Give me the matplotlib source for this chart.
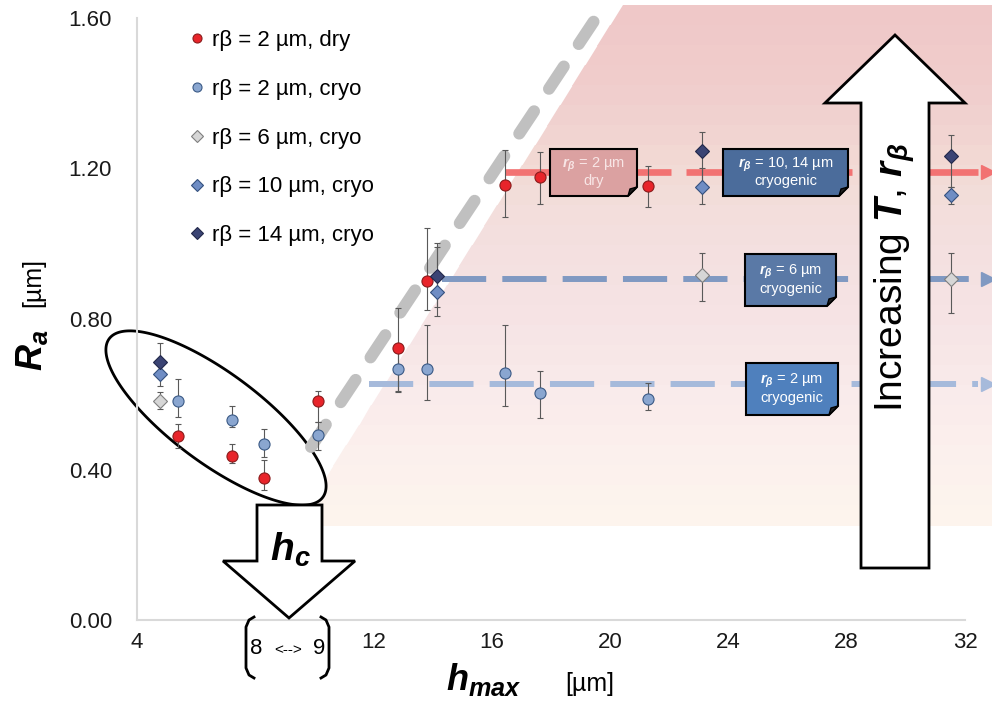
import numpy as np
import matplotlib.pyplot as plt
from matplotlib.patches import Polygon
from matplotlib.lines import Line2D
from matplotlib.transforms import Affine2D

plt.rcParams['font.family'] = ['Liberation Sans', 'DejaVu Sans']
plt.rcParams['mathtext.fontset'] = 'custom'
plt.rcParams['mathtext.rm'] = 'Liberation Sans'
plt.rcParams['mathtext.it'] = 'Liberation Sans:italic'
plt.rcParams['mathtext.bf'] = 'Liberation Sans:bold'
plt.rcParams['mathtext.bfit'] = 'Liberation Sans:italic:bold'

# ---- data ----
# r_beta = 2 um, dry
x_dry = [5.39, 7.21, 8.31, 10.11, 12.84, 13.82, 16.44, 17.64, 21.27]
y_dry = [0.489, 0.436, 0.378, 0.582, 0.724, 0.900, 1.157, 1.178, 1.154]
lo_dry = [0.031, 0.018, 0.032, 0.055, 0.117, 0.076, 0.087, 0.072, 0.055]
hi_dry = [0.031, 0.032, 0.047, 0.027, 0.106, 0.143, 0.093, 0.067, 0.053]
# r_beta = 2 um, cryo
x_c2 = [5.39, 7.21, 8.31, 10.11, 12.84, 13.82, 16.44, 17.64, 21.27]
y_c2 = [0.581, 0.532, 0.469, 0.492, 0.668, 0.666, 0.656, 0.603, 0.587]
lo_c2 = [0.041, 0.018, 0.035, 0.040, 0.060, 0.081, 0.087, 0.065, 0.029]
hi_c2 = [0.059, 0.037, 0.038, 0.035, 0.050, 0.117, 0.127, 0.060, 0.043]
# r_beta = 6 um, cryo
x_c6 = [4.78, 23.10, 31.54]
y_c6 = [0.581, 0.917, 0.906]
lo_c6 = [0.020, 0.070, 0.091]
hi_c6 = [0.026, 0.058, 0.069]
# r_beta = 10 um, cryo
x_c10 = [4.78, 14.14, 23.10, 31.54]
y_c10 = [0.653, 0.871, 1.151, 1.129]
lo_c10 = [0.030, 0.064, 0.045, 0.023]
hi_c10 = [0.030, 0.120, 0.050, 0.023]
# r_beta = 14 um, cryo
x_c14 = [4.78, 14.14, 23.10, 31.54]
y_c14 = [0.687, 0.913, 1.246, 1.232]
lo_c14 = [0.045, 0.080, 0.090, 0.080]
hi_c14 = [0.048, 0.090, 0.051, 0.058]

# plateau levels (dry 2um / cryo 6um / cryo 2um) and where they start
level_y = [1.19, 0.905, 0.628]
level_x0 = [16.45, 14.3, 11.83]

labels = ['r\u03b2 = 2 \u00b5m, dry', 'r\u03b2 = 2 \u00b5m, cryo', 'r\u03b2 = 6 \u00b5m, cryo',
          'r\u03b2 = 10 \u00b5m, cryo', 'r\u03b2 = 14 \u00b5m, cryo']

W, H = 992, 724
fig = plt.figure(figsize=(W / 100, H / 100), dpi=100)
ax = fig.add_axes([137 / W, 104 / H, (965 - 137) / W, (620 - 18) / H])
ax.set_xlim(4, 32)
ax.set_ylim(0, 1.6)

# pixel transform (origin top-left like the picture)
pix = Affine2D().scale(1, -1).translate(0, H)

def fxy(px, py):
    return px / W, 1 - py / H

# shaded region, banded gradient
stops_py = [5, 100, 170, 230, 300, 400, 470, 525]
stops_c = np.array([[239, 199, 199], [240, 206, 205], [242, 219, 213], [243, 223, 222],
                    [245, 226, 227], [249, 235, 235], [252, 241, 237], [253, 245, 237]]) / 255
edges = np.linspace(5, 525, 27)
def xleft(py):
    return 623 + (py - 5) * (296 - 623) / 520
for a, b in zip(edges[:-1], edges[1:]):
    m = 0.5 * (a + b)
    col = [np.interp(m, stops_py, stops_c[:, k]) for k in range(3)]
    ax.add_patch(Polygon([(xleft(a), a), (W, a), (W, b + 0.6), (xleft(b + 0.6), b + 0.6)],
                         closed=True, facecolor=col, edgecolor='none', transform=pix,
                         clip_on=False, zorder=0.5))

# ellipse around low-h points
t = np.linspace(0, 2 * np.pi, 300)
th = np.deg2rad(36.6)
ex = 216 + 133 * np.cos(t) * np.cos(th) - 45 * np.sin(t) * np.sin(th)
ey = 418 + 133 * np.cos(t) * np.sin(th) + 45 * np.sin(t) * np.cos(th)
ax.add_patch(Polygon(np.column_stack([ex, ey]), closed=True, facecolor='white',
                     edgecolor='black', lw=2, transform=pix, clip_on=False, zorder=1))

# grey dashed critical line
gl = Line2D([311, 600], [447, 12], color='#c0c0c0', lw=8.6, transform=pix,
            solid_capstyle='round', dash_capstyle='round', clip_on=False, zorder=1.5)
gl.set_dashes((2.25, 2.25))
ax.add_line(gl)

# plateau trend lines
trend_cols = ['#f27272', '#8099c2', '#a6badb']
trend_lw = [4.8, 4.3, 4.3]
trend_dash = [(24.9, 2.25), (7.4, 2.7), (7.4, 2.7)]
for yv, x0, c, lw, ds in zip(level_y, level_x0, trend_cols, trend_lw, trend_dash):
    ax.plot([x0, 32.45], [yv, yv], color=c, lw=lw, dashes=ds, clip_on=False, zorder=1.6)
    ax.plot([32.78], [yv], marker='>', color=c, ms=10, clip_on=False, zorder=1.6)

# data series
ekw = dict(ecolor='#595959', elinewidth=0.8, capsize=2.5, capthick=0.8, ls='none', zorder=3)
series = [
    (x_dry, y_dry, lo_dry, hi_dry, 'o', '#e8242a', '#8a1c1c', 8),
    (x_c2, y_c2, lo_c2, hi_c2, 'o', '#8aa6d0', '#3b5a86', 8),
    (x_c6, y_c6, lo_c6, hi_c6, 'D', '#d6d6d6', '#7f7f7f', 7.5),
    (x_c10, y_c10, lo_c10, hi_c10, 'D', '#6f8dc4', '#34507e', 7.5),
    (x_c14, y_c14, lo_c14, hi_c14, 'D', '#3b4474', '#22284a', 7.5),
]
handles = []
for xs, ys, lo, hi, mk, fc, ec, ms in series:
    ax.errorbar(xs, ys, yerr=[lo, hi], marker=mk, mfc=fc, mec=ec, mew=0.8, ms=ms, **ekw)
    handles.append(Line2D([], [], ls='none', marker=mk, mfc=fc, mec=ec, mew=0.8, ms=ms - 1.5))

ax.legend(handles, labels, loc='upper left', bbox_to_anchor=fxy(186, 30),
          bbox_transform=fig.transFigure, frameon=False, fontsize=16, handlelength=1,
          handletextpad=0.15, labelspacing=1.25, borderpad=0, borderaxespad=0)

# label boxes with folded corner
def note(x0, y0, x1, y1, fc, line1, line2, tc='white'):
    f = 9
    ax.add_patch(Polygon([(x0, y0), (x1, y0), (x1, y1 - f), (x1 - f, y1), (x0, y1)],
                         closed=True, facecolor=fc, edgecolor='black', lw=1.5,
                         transform=pix, clip_on=False, zorder=4))
    ax.add_patch(Polygon([(x1, y1 - f), (x1 - f, y1), (x1 - f + 2, y1 - f + 2)], closed=True,
                         facecolor='#222222', edgecolor='black', lw=1, transform=pix,
                         clip_on=False, zorder=4))
    cx, cy = (x0 + x1) / 2, (y0 + y1) / 2
    ax.text(cx, cy - 8, line1, transform=pix, ha='center', va='center', color=tc,
            fontsize=10.5, zorder=5)
    ax.text(cx, cy + 9, line2, transform=pix, ha='center', va='center', color=tc,
            fontsize=10.5, zorder=5)

rb = r'$\mathbfit{r}_{\mathbfit{\beta}}$'
note(550, 149, 637, 196, '#dba1a1', rb + ' = 2 \u00b5m', 'dry', tc='#f8e6e6')
note(723, 149, 848, 196, '#4b6c9b', rb + ' = 10, 14 \u00b5m', 'cryogenic')
note(745, 254, 836, 306, '#5a79a6', rb + ' = 6 \u00b5m', 'cryogenic')
note(746, 363, 838, 415, '#4f80bd', rb + ' = 2 \u00b5m', 'cryogenic')

# big arrows
ax.add_patch(Polygon([(895, 35), (965, 103), (929, 103), (929, 568), (861, 568), (861, 103),
                      (825, 103)], closed=True, facecolor='white', edgecolor='black', lw=2,
                     transform=pix, clip_on=False, zorder=5))
ax.text(895, 277, r'Increasing $\mathbfit{T}$, $\mathbfit{r}_{\mathbfit{\beta}}$', transform=pix,
        rotation=90, ha='center', va='center', fontsize=28, zorder=6)
ax.add_patch(Polygon([(257, 505), (322, 505), (322, 561), (355, 561), (289, 618), (223, 561),
                      (257, 561)], closed=True, facecolor='white', edgecolor='black', lw=2,
                     transform=pix, clip_on=False, zorder=5))
ax.text(290, 550, r'$\mathbfit{h}_{\mathbfit{c}}$', transform=pix, ha='center', va='center',
        fontsize=28, zorder=6)

# axes styling
ax.set_xticks([4, 12, 16, 20, 24, 28, 32])
ax.set_yticks([0, 0.4, 0.8, 1.2, 1.6])
ax.set_yticklabels(['%.2f' % v for v in [0, 0.4, 0.8, 1.2, 1.6]])
ax.tick_params(length=0, labelsize=16, colors='#1a1a1a')
ax.tick_params(axis='y', pad=18)
ax.tick_params(axis='x', pad=9)
for s in ['top', 'right']:
    ax.spines[s].set_visible(False)
for s in ['left', 'bottom']:
    ax.spines[s].set_color('#d9d9d9')
    ax.spines[s].set_linewidth(1.5)

# bracket under the axis: 8 <--> 9
fig.text(*fxy(256, 648), '8', fontsize=16, ha='center', va='center')
fig.text(*fxy(319, 648), '9', fontsize=16, ha='center', va='center')
fig.text(*fxy(288, 650), '<-->', fontsize=11, ha='center', va='center')
for sgn, xb in [(1, 254), (-1, 321)]:
    bx = [xb, xb - 5 * sgn, xb - 8 * sgn, xb - 8 * sgn, xb - 5 * sgn, xb]
    by = [617, 620, 627, 668, 675, 678]
    fig.add_artist(Line2D(bx, by, color='black', lw=2, transform=pix))

# axis titles
fig.text(*fxy(484, 680), r'$\mathbfit{h}_{\mathbfit{max}}$', fontsize=26, ha='center', va='center')
fig.text(*fxy(590, 684), '[\u00b5m]', fontsize=18, ha='center', va='center')
fig.text(*fxy(32, 350), r'$\mathbfit{R}_{\mathbfit{a}}$', fontsize=26, rotation=90,
         ha='center', va='center')
fig.text(*fxy(33, 282), '[\u00b5m]', fontsize=18, rotation=90, ha='center', va='center')

fig.savefig('out.png', dpi=100)
